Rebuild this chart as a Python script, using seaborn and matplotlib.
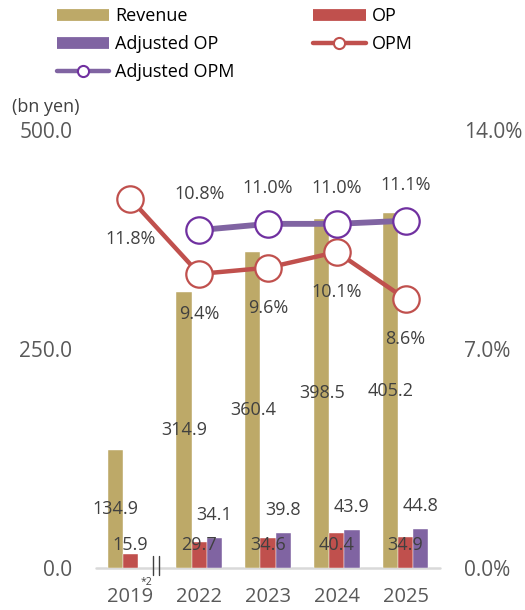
import numpy as np
import pandas as pd
import matplotlib
matplotlib.use("Agg")
import matplotlib.pyplot as plt
from matplotlib.lines import Line2D
import seaborn as sns

# ---- data -------------------------------------------------------------
years = ["2019", "2022", "2023", "2024", "2025"]
revenue = [134.9, 314.9, 360.4, 398.5, 405.2]
op = [15.9, 29.7, 34.6, 40.4, 34.9]
adjusted_op = [np.nan, 34.1, 39.8, 43.9, 44.8]
opm = [11.8, 9.4, 9.6, 10.1, 8.6]
adjusted_opm = [np.nan, 10.8, 11.0, 11.0, 11.1]

left_ticks = [0, 250, 500]
right_ticks = [0, 7, 14]

# ---- style ------------------------------------------------------------
sns.set_theme(style="white")
plt.rcParams["font.family"] = ["Open Sans", "DejaVu Sans"]

C_REV = "#BDA968"
C_OP = "#C0504D"
C_ADJ = "#8064A2"
C_ADJ_EDGE = "#7030A0"
C_TXT = "#404040"
C_TICK = "#595959"

series_order = ["Revenue", "OP", "Adjusted OP"]
df = pd.DataFrame({
    "year": years * 3,
    "series": ["Revenue"] * 5 + ["OP"] * 5 + ["Adjusted OP"] * 5,
    "value": revenue + op + adjusted_op,
}).dropna()

fig = plt.figure(figsize=(5.25, 6.10), dpi=100)
ax = fig.add_axes([96 / 525, 1 - 568 / 610, 344 / 525, 438 / 610])

sns.barplot(data=df, x="year", y="value", hue="series", order=years,
            hue_order=series_order,
            palette={"Revenue": C_REV, "OP": C_OP, "Adjusted OP": C_ADJ},
            width=0.66, dodge=True, gap=0, saturation=1, ax=ax,
            legend=False, edgecolor="white", linewidth=0.3)

ax.set_xlim(-0.5, 4.5)
ax.set_ylim(0, 500)
ax.set_yticks(left_ticks)
ax.set_yticklabels([f"{t:.1f}" for t in left_ticks])
ax.set_xlabel("")
ax.set_ylabel("")
for s in ax.spines.values():
    s.set_visible(False)
ax.axhline(0, color="#D9D9D9", lw=1.8, zorder=0.5, clip_on=False)
ax.tick_params(axis="y", length=0, pad=17, labelsize=15, labelcolor=C_TICK)
ax.tick_params(axis="x", length=0, pad=14, labelsize=14.5, labelcolor=C_TICK)

bw = 0.22
pos = np.arange(len(years))

# bar value labels
for i in range(len(years)):
    ax.text(pos[i] - bw, revenue[i] / 2, f"{revenue[i]:.1f}", ha="center",
            va="center", fontsize=13, color=C_TXT)
    ax.text(pos[i], 26, f"{op[i]:.1f}", ha="center", va="center",
            fontsize=13, color=C_TXT)
    if not np.isnan(adjusted_op[i]):
        ax.annotate(f"{adjusted_op[i]:.1f}", (pos[i] + bw, adjusted_op[i]),
                    xytext=(0, 16.5), textcoords="offset points",
                    ha="center", va="center", fontsize=13, color=C_TXT)

# ---- margin lines on the secondary axis --------------------------------
ax2 = ax.twinx()
sns.lineplot(x=pos, y=opm, ax=ax2, color=C_OP, lw=3.2, marker="o",
             markersize=19, markerfacecolor="white", markeredgecolor=C_OP,
             markeredgewidth=1.6, zorder=3)
adj_mask = ~np.isnan(adjusted_opm)
sns.lineplot(x=pos[adj_mask], y=np.array(adjusted_opm)[adj_mask], ax=ax2,
             color=C_ADJ, lw=4.2, marker="o", markersize=19,
             markerfacecolor="white", markeredgecolor=C_ADJ_EDGE,
             markeredgewidth=1.6, zorder=4)
ax2.set_ylim(0, 14)
ax2.set_yticks(right_ticks)
ax2.set_yticklabels([f"{t:.1f}%" for t in right_ticks])
for s in ax2.spines.values():
    s.set_visible(False)
ax2.tick_params(axis="y", length=0, pad=17, labelsize=15, labelcolor=C_TICK)
ax2.grid(False)
ax.grid(False)

for i in range(len(years)):
    ax2.annotate(f"{opm[i]:.1f}%", (pos[i], opm[i]), xytext=(0, -29),
                 textcoords="offset points", ha="center", va="center",
                 fontsize=13, color=C_TXT)
    if not np.isnan(adjusted_opm[i]):
        ax2.annotate(f"{adjusted_opm[i]:.1f}%", (pos[i], adjusted_opm[i]),
                     xytext=(0, 26), textcoords="offset points",
                     ha="center", va="center", fontsize=13, color=C_TXT)

# axis break between 2019 and 2022, with footnote marker
for xb in (0.33, 0.41):
    ax.plot([xb, xb], [-8, 14], color=C_TXT, lw=1.0, clip_on=False, zorder=5)
ax.text(0.24, -17, "*2", ha="center", va="center", fontsize=7.5,
        color=C_TXT, clip_on=False)

# unit label
fig.text(12 / 525, 1 - 107 / 610, "(bn yen)", ha="left", va="center",
         fontsize=13, color=C_TXT)

# ---- legend -----------------------------------------------------------
handles = [
    Line2D([], [], color=C_REV, lw=8.5, solid_capstyle="butt"),
    Line2D([], [], color=C_ADJ, lw=8.5, solid_capstyle="butt"),
    Line2D([], [], color=C_ADJ, lw=3.2, solid_capstyle="round", marker="o",
           markersize=8, markerfacecolor="white", markeredgecolor=C_ADJ_EDGE,
           markeredgewidth=1.5),
    Line2D([], [], color=C_OP, lw=8.5, solid_capstyle="butt"),
    Line2D([], [], color=C_OP, lw=3.2, solid_capstyle="round", marker="o",
           markersize=8, markerfacecolor="white", markeredgecolor=C_OP,
           markeredgewidth=1.5),
]
labels = ["Revenue", "Adjusted OP", "Adjusted OPM", "OP", "OPM"]
fig.legend(handles, labels, loc="upper left",
           bbox_to_anchor=(57 / 525, 1 - 7 / 610), ncol=2, frameon=False,
           fontsize=13, handlelength=2.9, handletextpad=0.33,
           columnspacing=4.35, labelspacing=0.55, borderpad=0,
           borderaxespad=0, labelcolor="black")

fig.savefig("out.png", dpi=100)
